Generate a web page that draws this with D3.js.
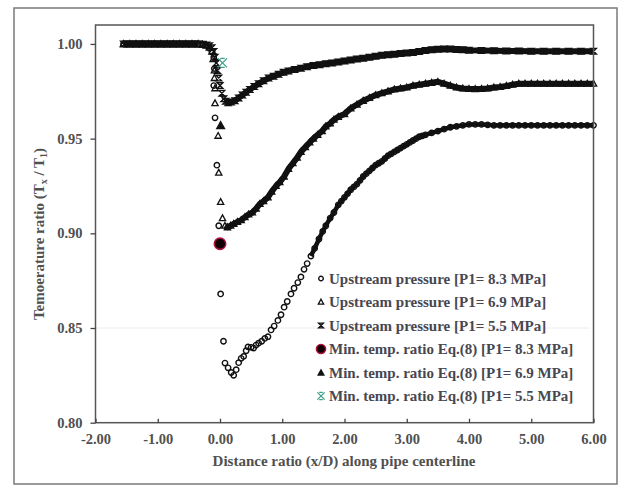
<!DOCTYPE html>
<html>
<head>
<meta charset="utf-8">
<script src="https://cdn.jsdelivr.net/npm/d3@7"></script>
<style>
  html, body { margin: 0; padding: 0; background: #fff; }
  svg { display: block; }
  text { font-family: "Liberation Serif", "Times New Roman", serif; font-weight: bold; }
</style>
</head>
<body>
<svg id="chart" width="623" height="487"></svg>
<script>
// Temperature ratio along the pipe centreline for three upstream pressures
const xTicks = [-2, -1, 0, 1, 2, 3, 4, 5, 6];
const yTicks = [0.80, 0.85, 0.90, 0.95, 1.00];

// P1 = 8.3 MPa (open circles)
const p83 = [
  [-1.55,1.000],[-1.45,1.000],[-1.35,1.000],[-1.25,1.000],[-1.15,1.000],[-1.05,1.000],[-0.95,1.000],
  [-0.85,1.000],[-0.75,1.000],[-0.65,1.000],[-0.55,1.000],[-0.45,1.000],[-0.35,1.000],
  [-0.28,0.9997],[-0.22,0.9992],[-0.17,0.998],[-0.13,0.996],[-0.10,0.993],[-0.09,0.987],[-0.10,0.978],
  [-0.08,0.961],[-0.05,0.936],[-0.02,0.904],[0.01,0.868],[0.056,0.843],[0.08,0.8315],[0.13,0.829],
  [0.18,0.8265],[0.22,0.825],[0.26,0.828],[0.30,0.8317],[0.34,0.834],[0.38,0.835],[0.42,0.838],
  [0.45,0.840],[0.50,0.8398],[0.54,0.8394],[0.58,0.841],[0.62,0.842],[0.67,0.843],[0.72,0.8445],
  [0.77,0.8454],[0.82,0.849],[0.87,0.851],[0.93,0.854],[0.98,0.857],[1.03,0.861],[1.08,0.864],
  [1.14,0.868],[1.19,0.871],[1.25,0.874],[1.30,0.877],[1.35,0.881],[1.40,0.884],[1.46,0.888],
  [1.52,0.892],[1.59,0.897],[1.65,0.901],[1.70,0.904],[1.77,0.908],[1.83,0.911],[1.90,0.915],
  [1.95,0.917],[2.00,0.919],[2.05,0.921],[2.10,0.923],[2.15,0.9245],[2.20,0.926],[2.25,0.928],
  [2.30,0.930],[2.35,0.9315],[2.40,0.933],[2.45,0.9345],[2.50,0.936],[2.55,0.937],[2.60,0.938],
  [2.65,0.9395],[2.70,0.941],[2.75,0.942],[2.80,0.943],[2.85,0.944],[2.90,0.945],[2.95,0.946],
  [3.00,0.947],[3.05,0.948],[3.10,0.949],[3.15,0.950],[3.20,0.951],[3.25,0.9515],[3.30,0.952],
  [3.40,0.953],[3.50,0.954],[3.60,0.955],[3.70,0.956],[3.80,0.9565],[3.90,0.957],[4.00,0.9575],
  [4.10,0.9575],[4.20,0.9575],[4.30,0.9573],[4.40,0.957],[4.50,0.957],[4.60,0.957],[4.70,0.957],
  [4.80,0.957],[4.90,0.957],[5.00,0.957],[5.10,0.957],[5.20,0.957],[5.30,0.957],[5.40,0.957],
  [5.50,0.957],[5.60,0.957],[5.70,0.957],[5.80,0.957],[5.90,0.957],[6.00,0.957]
];

// P1 = 6.9 MPa (open triangles)
const p69 = [
  [-1.55,1.000],[-1.45,1.000],[-1.35,1.000],[-1.25,1.000],[-1.15,1.000],[-1.05,1.000],[-0.95,1.000],
  [-0.85,1.000],[-0.75,1.000],[-0.65,1.000],[-0.55,1.000],[-0.45,1.000],[-0.35,1.000],
  [-0.28,0.9997],[-0.22,0.9992],[-0.17,0.998],[-0.13,0.996],[-0.11,0.992],[-0.09,0.986],[-0.09,0.982],
  [-0.08,0.9766],[-0.08,0.9687],[-0.03,0.9515],[-0.02,0.932],[0.01,0.9166],[0.04,0.908],[0.08,0.904],
  [0.12,0.9032],[0.17,0.904],[0.22,0.905],[0.28,0.906],[0.34,0.907],[0.40,0.9085],[0.46,0.910],
  [0.52,0.911],[0.58,0.913],[0.64,0.9155],[0.70,0.917],[0.77,0.919],[0.83,0.922],[0.90,0.925],
  [0.96,0.927],[1.03,0.930],[1.10,0.934],[1.17,0.937],[1.24,0.940],[1.30,0.943],[1.37,0.9455],
  [1.44,0.948],[1.50,0.950],[1.57,0.952],[1.64,0.954],[1.70,0.9565],[1.77,0.958],[1.83,0.960],
  [1.90,0.9615],[2.00,0.963],[2.10,0.966],[2.20,0.968],[2.30,0.970],[2.40,0.9715],[2.50,0.973],
  [2.60,0.974],[2.70,0.975],[2.80,0.976],[2.90,0.9765],[3.00,0.977],[3.10,0.978],[3.20,0.9785],
  [3.30,0.979],[3.40,0.9795],[3.50,0.980],[3.60,0.979],[3.70,0.978],[3.80,0.977],[3.90,0.9765],
  [4.00,0.9763],[4.10,0.9762],[4.20,0.9763],[4.30,0.9765],[4.40,0.977],[4.50,0.9773],[4.60,0.9778],
  [4.70,0.9785],[4.80,0.979],[4.90,0.979],[5.00,0.979],[5.10,0.979],[5.20,0.979],[5.30,0.979],
  [5.40,0.979],[5.50,0.979],[5.60,0.979],[5.70,0.979],[5.80,0.979],[5.90,0.979],[6.00,0.979]
];

// P1 = 5.5 MPa (hourglass crosses)
const p55 = [
  [-1.55,1.000],[-1.45,1.000],[-1.35,1.000],[-1.25,1.000],[-1.15,1.000],[-1.05,1.000],[-0.95,1.000],
  [-0.85,1.000],[-0.75,1.000],[-0.65,1.000],[-0.55,1.000],[-0.45,1.000],[-0.35,1.000],
  [-0.28,0.9998],[-0.22,0.9995],[-0.17,0.999],[-0.13,0.998],[-0.10,0.996],[-0.08,0.993],[-0.06,0.990],
  [-0.04,0.986],[-0.02,0.982],[0.00,0.978],[0.03,0.974],[0.06,0.971],[0.09,0.9697],[0.13,0.969],
  [0.18,0.9693],[0.24,0.970],[0.30,0.9715],[0.36,0.973],[0.42,0.9745],[0.48,0.976],[0.55,0.9775],
  [0.62,0.979],[0.70,0.9805],[0.78,0.982],[0.86,0.983],[0.94,0.984],[1.02,0.985],[1.10,0.9857],
  [1.20,0.9865],[1.30,0.9872],[1.40,0.988],[1.50,0.9886],[1.60,0.989],[1.70,0.9895],[1.80,0.990],
  [1.90,0.9905],[2.00,0.991],[2.10,0.9915],[2.20,0.992],[2.30,0.9925],[2.40,0.993],[2.50,0.9935],
  [2.60,0.994],[2.70,0.9943],[2.80,0.9946],[2.90,0.995],[3.00,0.9952],[3.10,0.9955],[3.20,0.996],
  [3.30,0.9965],[3.40,0.9969],[3.50,0.9972],[3.60,0.9973],[3.70,0.9973],[3.80,0.9971],[3.90,0.9969],
  [4.00,0.9967],[4.20,0.9965],[4.40,0.9964],[4.60,0.9963],[4.80,0.9963],[5.00,0.9962],[5.20,0.9962],
  [5.40,0.9962],[5.60,0.9962],[5.80,0.9962],[6.00,0.9962]
];

// Minimum temperature ratio from Eq.(8)
const minPoints = [
  { key: "m83", x: 0.00, y: 0.8945 },
  { key: "m69", x: 0.01, y: 0.957 },
  { key: "m55", x: 0.04, y: 0.990 }
];

const legendLabels = [
  "Upstream pressure [P1= 8.3 MPa]",
  "Upstream pressure [P1= 6.9 MPa]",
  "Upstream pressure [P1= 5.5 MPa]",
  "Min. temp. ratio Eq.(8) [P1= 8.3 MPa]",
  "Min. temp. ratio Eq.(8) [P1= 6.9 MPa]",
  "Min. temp. ratio Eq.(8) [P1= 5.5 MPa]"
];
const legendKeys = ["s83", "s69", "s55", "m83", "m69", "m55"];

const svg = d3.select("#chart");
const plot = { left: 95.5, right: 593.5, top: 25, bottom: 422.7 };

const x = d3.scaleLinear().domain([-2, 6]).range([plot.left, plot.right]);
const y = d3.scaleLinear().domain([0.80, 1.01]).range([plot.bottom, plot.top]);

const textCol = "#505050";
const teal = "#3f9f8c";
const fmt = d => d3.format(".2f")(d).replace("\u2212", "-");

// outer frame
svg.append("rect").attr("x", 14).attr("y", 8).attr("width", 603).attr("height", 476)
  .attr("fill", "#fff").attr("stroke", "#7a7a7a").attr("stroke-width", 1.5);

// faint line across the plot at 0.85
svg.append("line").attr("x1", plot.left).attr("x2", plot.right - 4)
  .attr("y1", y(0.85)).attr("y2", y(0.85)).attr("stroke", "#ececec").attr("stroke-width", 1);

// marker shapes
function drawMarker(g, key, size) {
  const s = size || 1;
  if (key === "s83") {
    g.append("circle").attr("r", 2.7 * s).attr("fill", "none").attr("stroke", "#111").attr("stroke-width", 1.4);
  } else if (key === "s69") {
    const h = 3.3 * s;
    g.append("path").attr("d", `M0,${-h}L${h * 0.95},${h * 0.75}L${-h * 0.95},${h * 0.75}Z`)
      .attr("fill", "none").attr("stroke", "#111").attr("stroke-width", 1.3);
  } else if (key === "s55") {
    const h = 2.8 * s;
    g.append("path").attr("d", `M${-h},${-h}L${h},${-h}L${-h},${h}L${h},${h}Z`)
      .attr("fill", "none").attr("stroke", "#111").attr("stroke-width", 1.4);
  } else if (key === "m83") {
    g.append("circle").attr("r", 5.8 * s).attr("fill", "#120006").attr("stroke", "#b0123f").attr("stroke-width", 1.4);
  } else if (key === "m69") {
    const h = 5 * s;
    g.append("path").attr("d", `M0,${-h}L${h},${h * 0.8}L${-h},${h * 0.8}Z`).attr("fill", "#111");
  } else if (key === "m55") {
    const h = 4.5 * s;
    g.append("path").attr("d", `M${-h},${-h}L${h},${h}M${h},${-h}L${-h},${h}M${-h * 0.5},${-h}L${h * 0.5},${-h}M${-h * 0.5},${h}L${h * 0.5},${h}`)
      .attr("fill", "none").attr("stroke", teal).attr("stroke-width", 1.3);
  }
}

const line = d3.line().x(d => x(d[0])).y(d => y(d[1]));
const series = [
  { key: "s55", data: p55, from: 0.09, width: 6 },
  { key: "s69", data: p69, from: 0.08, width: 6 },
  { key: "s83", data: p83, from: 1.45, width: 4.5 }
];

const gPlot = svg.append("g");
// solid band behind the densely packed markers
series.forEach(s => {
  gPlot.append("path").datum(s.data.filter(d => d[0] <= -0.3))
    .attr("d", line).attr("fill", "none").attr("stroke", "#111").attr("stroke-width", 6.5);
  gPlot.append("path").datum(s.data.filter(d => d[0] >= s.from))
    .attr("d", line).attr("fill", "none").attr("stroke", "#111").attr("stroke-width", s.width)
    .attr("stroke-linejoin", "round");
});

series.forEach(s => {
  gPlot.selectAll(null).data(s.data).enter().append("g")
    .attr("transform", d => `translate(${x(d[0])},${y(d[1])})`)
    .each(function () { drawMarker(d3.select(this), s.key); });
});

gPlot.selectAll(null).data(minPoints).enter().append("g")
  .attr("transform", d => `translate(${x(d.x)},${y(d.y)})`)
  .each(function (d) { drawMarker(d3.select(this), d.key); });

// plot box
svg.append("rect").attr("x", plot.left).attr("y", plot.top)
  .attr("width", plot.right - plot.left).attr("height", plot.bottom - plot.top)
  .attr("fill", "none").attr("stroke", "#555").attr("stroke-width", 1.5);

// axes
const xAxis = svg.append("g").attr("transform", `translate(0,${plot.bottom})`)
  .call(d3.axisBottom(x).tickValues(xTicks).tickSize(-4).tickPadding(11).tickFormat(fmt));
const yAxis = svg.append("g").attr("transform", `translate(${plot.left},0)`)
  .call(d3.axisLeft(y).tickValues(yTicks).tickSize(5).tickPadding(8).tickFormat(fmt));
[xAxis, yAxis].forEach(a => {
  a.select(".domain").remove();
  a.selectAll(".tick line").attr("stroke", "#444").attr("stroke-width", 1.3);
  a.selectAll(".tick text").attr("fill", textCol).attr("font-size", 14.5)
    .attr("font-family", "Liberation Serif, serif").attr("font-weight", "bold");
});

// axis titles
svg.append("text").attr("x", 344).attr("y", 466).attr("text-anchor", "middle")
  .attr("fill", textCol).attr("font-size", 15)
  .text("Distance ratio (x/D) along pipe centerline");

const yt = svg.append("text").attr("transform", "translate(44,234) rotate(-90)")
  .attr("text-anchor", "middle").attr("fill", textCol).attr("font-size", 15);
yt.append("tspan").text("Temoerature ratio (T");
yt.append("tspan").attr("font-size", 10).attr("dy", 3).text("x");
yt.append("tspan").attr("dy", -3).text(" / T");
yt.append("tspan").attr("font-size", 10).attr("dy", 3).text("1");
yt.append("tspan").attr("dy", -3).text(")");

// legend
const lg = svg.append("g").attr("transform", "translate(321,278.5)");
legendLabels.forEach((lab, i) => {
  const row = lg.append("g").attr("transform", `translate(0,${i * 23.5})`);
  drawMarker(row.append("g"), legendKeys[i], i < 3 ? 0.85 : 0.8);
  row.append("text").attr("x", 8).attr("y", 0).attr("dy", "0.35em")
    .attr("fill", "#474750").attr("font-size", 15).text(lab);
});
</script>
</body>
</html>
